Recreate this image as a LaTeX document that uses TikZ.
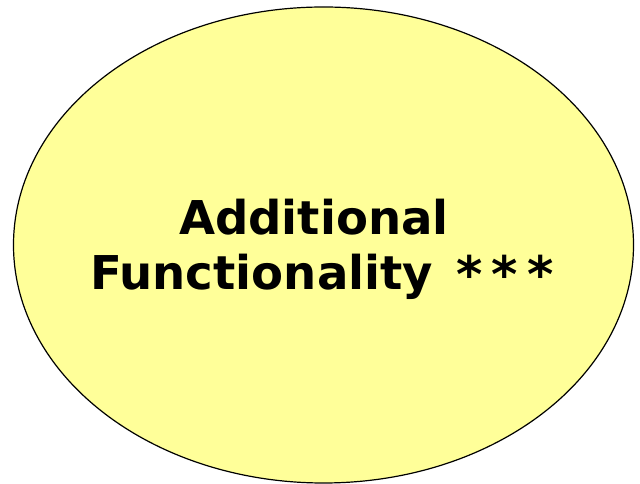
\documentclass[tikz,border=0pt]{standalone}
\usepackage{fontspec}
\usepackage{graphicx}
\setmainfont{DejaVu Sans}
\definecolor{ovalfill}{HTML}{FFFF99}
\newcommand{\starmark}{\raisebox{-0.08em}{\scalebox{1.08}{*}}}
\tikzset{
  oval/.style={draw=black, line width=1.2pt, fill=ovalfill},
  label/.style={font=\bfseries\fontsize{46.6pt}{55pt}\selectfont, align=center, inner sep=0pt}
}
\begin{document}
\begin{tikzpicture}[x=1pt,y=1pt]
\useasboundingbox (0,0) rectangle (640,484);
\draw[oval] (323.5,239) ellipse [x radius=310, y radius=238];
\node[label] (txt) at (322,235) {Additional\rule{0.35em}{0pt}\\Functionality\hspace{0.5em}\starmark\hspace{0.2em}\starmark\hspace{0.2em}\starmark};
\end{tikzpicture}
\end{document}
